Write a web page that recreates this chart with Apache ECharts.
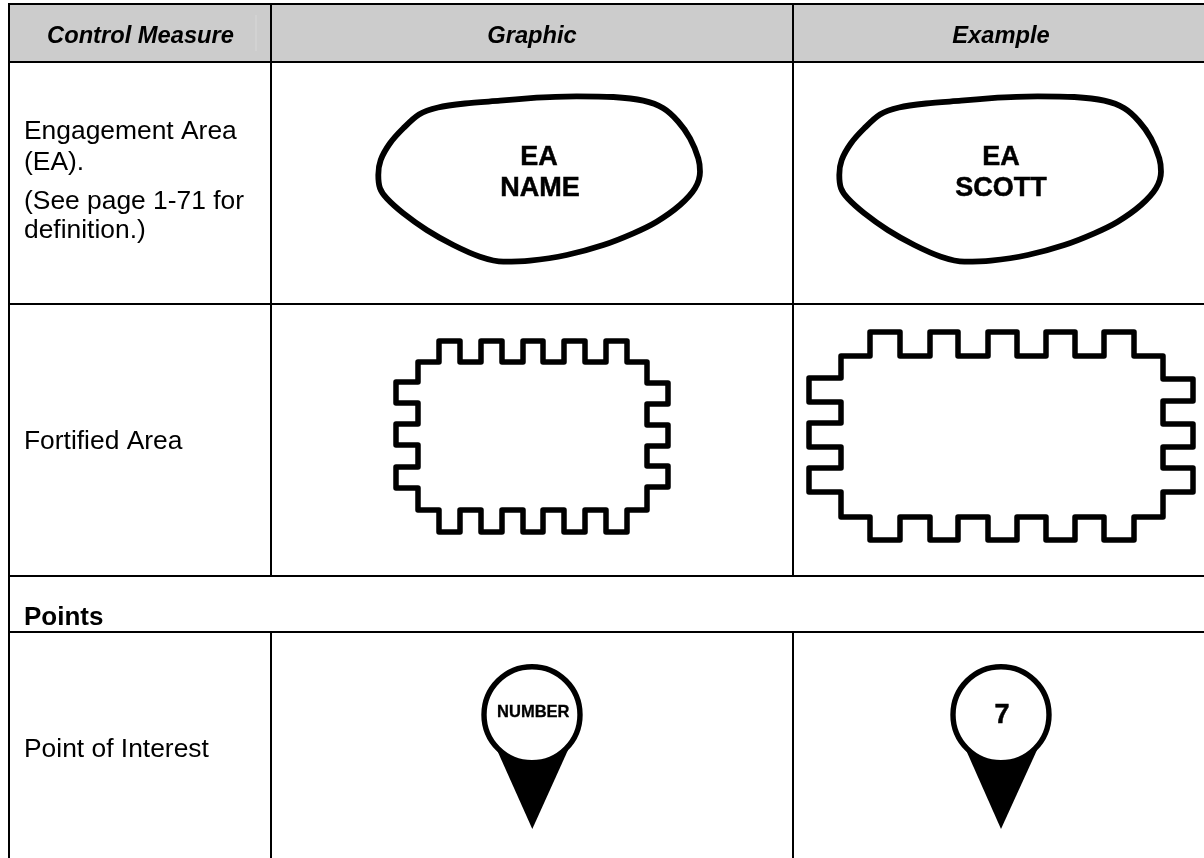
<!DOCTYPE html>
<html>
<head>
<meta charset="utf-8">
<style>
html, body { margin: 0; padding: 0; background: #fff; }
#chart { width: 1204px; height: 858px; }
</style>
<script src="https://cdn.jsdelivr.net/npm/echarts@6/dist/echarts.min.js"></script>
</head>
<body>
<div id="chart"></div>
<script>
// table rules, [x1, y1, x2, y2]
const tableRules = [
    [9, 4, 1204, 4], [9, 62, 1204, 62], [9, 304, 1204, 304], [9, 576, 1204, 576], [9, 632, 1204, 632],
    [9, 3, 9, 858], [271, 3, 271, 576], [793, 3, 793, 576], [271, 632, 271, 858], [793, 632, 793, 858]
]
const headerBand = [[10, 5, 1204, 61]]
const headerSeam = [[256, 15, 256, 51]]

const headerTexts = ['Control Measure', 'Graphic', 'Example']
const headerPos = [[140.5, 36], [532, 36], [1001, 36]]
const bodyTexts = ['Engagement Area', '(EA).', '(See page 1-71 for', 'definition.)', 'Fortified Area', 'Point of Interest']
const bodyPos = [[24, 132], [24, 163], [24, 202], [24, 230.5], [24, 442], [24, 749.5]]
const sectionTexts = ['Points']
const sectionPos = [[24, 617.5]]
const glyphTexts = ['EA', 'NAME', 'EA', 'SCOTT', '7']
const glyphPos = [[539, 157.5], [540, 189], [1001, 157.5], [1001, 189], [1002, 715.5]]
const smallGlyphTexts = ['NUMBER']
const smallGlyphPos = [[533.3, 712.5]]

// outline of the engagement areas
const areaGraphic = [
    [536.7, 97.7], [576.7, 96.3], [613.3, 97], [643.3, 100.7], [663.3, 108.3], [678.3, 121.7], [690, 138.3],
    [698.3, 158.3], [700, 171.7], [695, 188.3], [680, 205], [656.7, 221.7], [633.3, 233.3], [603.3, 245],
    [566.7, 255], [530, 260.7], [503.3, 261.7], [480, 256.7], [453.3, 245], [426.7, 230], [403.3, 213.3],
    [386.7, 198.3], [380, 188.3], [378.3, 175], [380.7, 160], [390, 143.3], [403.3, 128.3], [419, 114.5],
    [438, 107.5], [465, 103.5], [500, 100.7], [536.7, 97.7]
]
const areaExample = [
    [997.7, 97.7], [1037.7, 96.3], [1074.3, 97], [1104.3, 100.7], [1124.3, 108.3], [1139.3, 121.7], [1151, 138.3],
    [1159.3, 158.3], [1161, 171.7], [1156, 188.3], [1141, 205], [1117.7, 221.7], [1094.3, 233.3], [1064.3, 245],
    [1027.7, 255], [991, 260.7], [964.3, 261.7], [941, 256.7], [914.3, 245], [887.7, 230], [864.3, 213.3],
    [847.7, 198.3], [841, 188.3], [839.3, 175], [841.7, 160], [851, 143.3], [864.3, 128.3], [880, 114.5],
    [899, 107.5], [926, 103.5], [961, 100.7], [997.7, 97.7]
]

// outline of the fortified areas
const fortGraphic = [
    [449, 341], [460, 341], [460, 362], [481, 362], [481, 341], [502, 341], [502, 362], [523, 362],
    [523, 341], [543, 341], [543, 362], [564, 362], [564, 341], [585, 341], [585, 362], [606, 362],
    [606, 341], [627, 341], [627, 362], [647, 362], [647, 383], [668, 383], [668, 404], [647, 404],
    [647, 425], [668, 425], [668, 446], [647, 446], [647, 466], [668, 466], [668, 487], [647, 487],
    [647, 510], [627, 510], [627, 532], [606, 532], [606, 510], [585, 510], [585, 532], [564, 532],
    [564, 510], [543, 510], [543, 532], [523, 532], [523, 510], [502, 510], [502, 532], [481, 532],
    [481, 510], [460, 510], [460, 532], [439, 532], [439, 510], [418, 510], [418, 488], [396, 488],
    [396, 467], [418, 467], [418, 445], [396, 445], [396, 424], [418, 424], [418, 403], [396, 403],
    [396, 382], [418, 382], [418, 362], [439, 362], [439, 341], [449, 341]
]
const fortExample = [
    [885, 332], [900, 332], [900, 356], [930, 356], [930, 332], [958, 332], [958, 356], [988, 356],
    [988, 332], [1017, 332], [1017, 356], [1046, 356], [1046, 332], [1075, 332], [1075, 356], [1104, 356],
    [1104, 332], [1134, 332], [1134, 356], [1163, 356], [1163, 379], [1193, 379], [1193, 401], [1163, 401],
    [1163, 424], [1193, 424], [1193, 447], [1163, 447], [1163, 468], [1193, 468], [1193, 492], [1163, 492],
    [1163, 517], [1134, 517], [1134, 540], [1104, 540], [1104, 517], [1075, 517], [1075, 540], [1046, 540],
    [1046, 517], [1017, 517], [1017, 540], [988, 540], [988, 517], [958, 517], [958, 540], [930, 540],
    [930, 517], [900, 517], [900, 540], [870, 540], [870, 517], [841, 517], [841, 492], [809, 492],
    [809, 468], [841, 468], [841, 447], [809, 447], [809, 423], [841, 423], [841, 402], [809, 402],
    [809, 378], [841, 378], [841, 356], [870, 356], [870, 332], [885, 332]
]

// points of interest, circle centres and the solid wedge below each
const pinCentres = [[532, 714.7], [1001, 714.7]]
const pinWedges = [
    [497, 750, 568, 750, 532.3, 829],
    [966, 750, 1037, 750, 1001, 829]
]

function outline(points, smooth, width) {
    return {
        type: 'line',
        data: points,
        smooth: smooth,
        symbol: 'none',
        silent: true,
        clip: false,
        z: 3,
        lineStyle: { color: '#000', width: width, join: 'round', cap: 'round' }
    }
}

function rules(data, color, z) {
    return {
        type: 'custom',
        data: data,
        silent: true,
        clip: false,
        z: z,
        renderItem: function (params, api) {
            let a = api.coord([api.value(0), api.value(1)])
            let b = api.coord([api.value(2), api.value(3)])
            return {
                type: 'line',
                shape: { x1: a[0], y1: a[1], x2: b[0], y2: b[1] },
                style: { stroke: color, lineWidth: 2 }
            }
        }
    }
}

function texts(list, pos, font, align, heavy) {
    return {
        type: 'custom',
        data: pos,
        silent: true,
        clip: false,
        z: 6,
        renderItem: function (params, api) {
            let p = api.coord([api.value(0), api.value(1)])
            return {
                type: 'text',
                style: {
                    x: p[0],
                    y: p[1],
                    text: list[params.dataIndex],
                    font: font,
                    fill: '#000',
                    stroke: heavy ? '#000' : null,
                    lineWidth: heavy || 0,
                    align: align,
                    verticalAlign: 'middle'
                }
            }
        }
    }
}

let chart = echarts.init(document.getElementById('chart'), null, { renderer: 'canvas' })
chart.setOption({
    animation: false,
    backgroundColor: '#ffffff',
    grid: { left: 0, right: 0, top: 0, bottom: 0 },
    xAxis: { type: 'value', min: 0, max: 1204, show: false },
    yAxis: { type: 'value', min: 0, max: 858, inverse: true, show: false },
    series: [
        {
            type: 'custom',
            data: headerBand,
            silent: true,
            z: 1,
            renderItem: function (params, api) {
                let a = api.coord([api.value(0), api.value(1)])
                let b = api.coord([api.value(2), api.value(3)])
                return {
                    type: 'rect',
                    shape: { x: a[0], y: a[1], width: b[0] - a[0], height: b[1] - a[1] },
                    style: { fill: '#cccccc' }
                }
            }
        },
        rules(headerSeam, '#d2d2d2', 2),
        rules(tableRules, '#000000', 2),
        outline(areaGraphic, 0.3, 5.8),
        outline(areaExample, 0.3, 5.8),
        outline(fortGraphic, false, 5.5),
        outline(fortExample, false, 5.5),
        {
            type: 'custom',
            data: pinWedges,
            silent: true,
            z: 3,
            renderItem: function (params, api) {
                return {
                    type: 'polygon',
                    shape: {
                        points: [
                            api.coord([api.value(0), api.value(1)]),
                            api.coord([api.value(2), api.value(3)]),
                            api.coord([api.value(4), api.value(5)])
                        ]
                    },
                    style: { fill: '#000' }
                }
            }
        },
        {
            type: 'scatter',
            data: pinCentres,
            symbol: 'circle',
            symbolSize: 96,
            silent: true,
            z: 4,
            itemStyle: { color: '#fff', borderColor: '#000', borderWidth: 5.4, opacity: 1 }
        },
        texts(headerTexts, headerPos, 'italic bold 23.7px "Liberation Sans"', 'center'),
        texts(bodyTexts, bodyPos, '26.4px "Liberation Sans"', 'left'),
        texts(sectionTexts, sectionPos, 'bold 26px "Liberation Sans"', 'left'),
        texts(glyphTexts, glyphPos, 'bold 27px "Liberation Sans"', 'center', 0.5),
        texts(smallGlyphTexts, smallGlyphPos, 'bold 16.5px "Liberation Sans"', 'center', 0.3)
    ]
})
</script>
</body>
</html>
